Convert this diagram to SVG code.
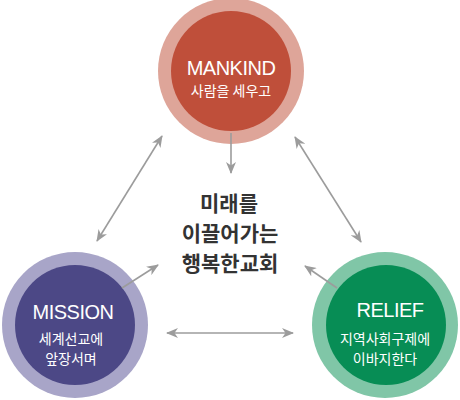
<svg xmlns="http://www.w3.org/2000/svg" width="460" height="400" viewBox="0 0 460 400">
<style>
.en{font-family:"Liberation Sans",Arial,sans-serif;font-size:20px;fill:#fff;text-anchor:middle;letter-spacing:-0.5px}
.ko{font-family:"Noto Sans CJK KR","Noto Sans",sans-serif;font-size:14px;fill:#fff;text-anchor:middle}
.ct{font-family:"Noto Sans CJK KR","Noto Sans",sans-serif;font-size:21px;font-weight:bold;fill:#333;text-anchor:middle}
.ar{stroke:#9c9c9c;stroke-width:1.6;fill:none;marker-end:url(#ah)}
.dbl{marker-start:url(#ah)}
</style>
<defs>
<marker id="ah" markerUnits="userSpaceOnUse" markerWidth="12" markerHeight="10" refX="11" refY="5" orient="auto-start-reverse" viewBox="0 0 12 10">
<path d="M0,0 L12,5 L0,10 L3.5,5 z" fill="#9c9c9c"/>
</marker>
</defs>
<rect width="460" height="400" fill="#fff"/>
<g id="mankind">
<circle cx="231" cy="71" r="73" fill="#DEA599"/>
<circle cx="231" cy="71" r="60" fill="#BF4F3A"/>
<text class="en" x="231" y="75">MANKIND</text>
<text class="ko" x="231" y="96">사람을 세우고</text>
</g>
<g id="mission">
<circle cx="75" cy="325" r="73" fill="#A8A5C8"/>
<circle cx="75" cy="325" r="60" fill="#4C4886"/>
<text class="en" x="73" y="319">MISSION</text>
<text class="ko" x="71" y="344">세계선교에</text>
<text class="ko" x="71" y="364">앞장서며</text>
</g>
<g id="relief">
<circle cx="385" cy="325" r="73" fill="#80C6A7"/>
<circle cx="386" cy="325" r="60" fill="#078D55"/>
<text class="en" x="390" y="317">RELIEF</text>
<text class="ko" x="385" y="344">지역사회구제에</text>
<text class="ko" x="385" y="364">이바지한다</text>
</g>
<g id="center">
<text class="ct" x="229" y="211">미래를</text>
<text class="ct" x="230" y="241">이끌어가는</text>
<text class="ct" x="230" y="271">행복한교회</text>
</g>
<g id="connectors">
<line class="ar" x1="231" y1="133" x2="231" y2="173"/>
<line class="ar dbl" x1="97" y1="241" x2="162" y2="136"/>
<line class="ar dbl" x1="295" y1="137" x2="361" y2="242"/>
<line class="ar" x1="122" y1="288" x2="158" y2="265"/>
<line class="ar" x1="337" y1="288" x2="305" y2="266"/>
<line class="ar dbl" x1="167" y1="333" x2="293" y2="333"/>
</g>
</svg>
